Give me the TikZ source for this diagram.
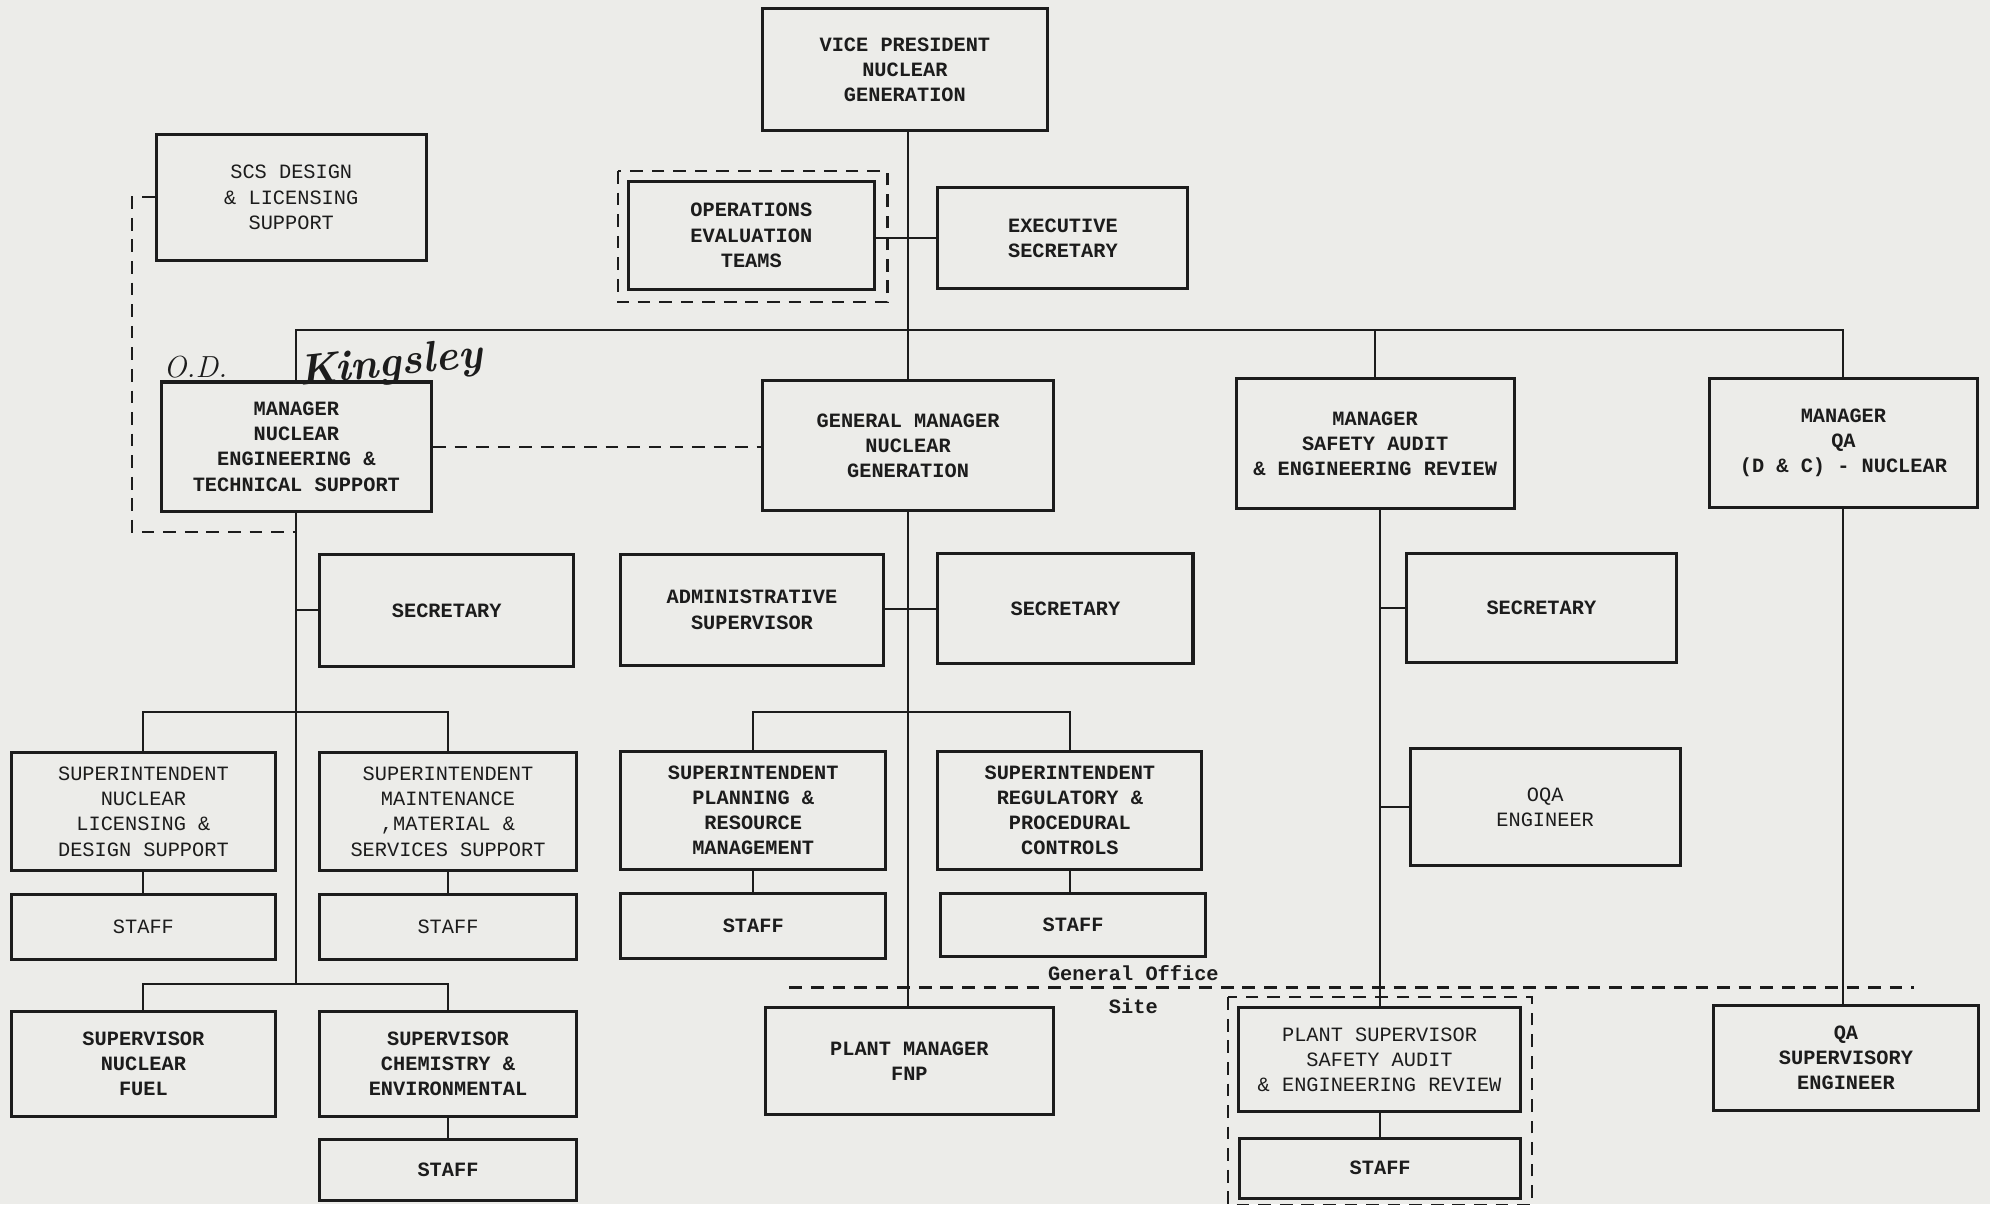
\documentclass[tikz,border=0pt]{standalone}
\usepackage{fontspec}
\setmonofont{Liberation Mono}
\usetikzlibrary{calc}
\definecolor{paper}{RGB}{236,236,233}
\definecolor{ink}{RGB}{28,28,28}
\tikzset{
  box/.style={draw=ink, line width=2.4pt, inner sep=0pt, align=center, text=ink,
    font=\ttfamily\bfseries\fontsize{16}{19.8}\selectfont},
  lightbox/.style={box, font=\ttfamily\fontsize{16}{19.8}\selectfont},
  link/.style={draw=ink, line width=1.6pt},
  dashlink/.style={draw=ink, line width=1.8pt, dash pattern=on 10pt off 7pt},
  hand/.style={text=ink, inner sep=0pt, font=\itshape\fontsize{30}{30}\selectfont},
  tag/.style={text=ink, inner sep=0pt, font=\ttfamily\bfseries\fontsize{16}{19.8}\selectfont}
}
% \orgbox[style]{name}{x1}{y1}{x2}{y2}{text}: a box spanning the given corners
\newcommand\orgbox[7][box]{%
  \node[#1, minimum width={#5-#3}, minimum height={#6-#4}] (#2)
    at ({(#3+#5)/2},{(#4+#6)/2}) {#7};}
\begin{document}
\begin{tikzpicture}[x=1pt, y=-1pt]
\fill[paper] (0,0) rectangle (1568,949);
\useasboundingbox (0,0) rectangle (1568,949);

% top level
\orgbox{vp}{601}{7}{825}{103}{VICE PRESIDENT\\NUCLEAR\\GENERATION}
\orgbox[lightbox]{scs}{123}{106}{336}{205}{SCS DESIGN\\\& LICENSING\\SUPPORT}
\orgbox{oet}{495}{143}{689}{228}{OPERATIONS\\EVALUATION\\TEAMS}
\orgbox{exec}{739}{148}{936}{227}{EXECUTIVE\\SECRETARY}

% managers
\orgbox{mnets}{127}{301}{340}{403}{MANAGER\\NUCLEAR\\ENGINEERING \&\\TECHNICAL SUPPORT}
\orgbox{gm}{601}{300}{830}{402}{GENERAL MANAGER\\NUCLEAR\\GENERATION}
\orgbox{msaer}{974}{298}{1193}{401}{MANAGER\\SAFETY AUDIT\\\& ENGINEERING REVIEW}
\orgbox{mqa}{1347}{298}{1558}{400}{MANAGER\\QA\\(D \& C) - NUCLEAR}

% secretaries and supervisors
\orgbox{sec1}{252}{437}{452}{525}{SECRETARY}
\orgbox{adm}{489}{437}{696}{524}{ADMINISTRATIVE\\SUPERVISOR}
\orgbox{sec2}{739}{436}{940}{523}{SECRETARY}
\orgbox{sec3}{1108}{436}{1321}{522}{SECRETARY}

% superintendents
\orgbox[lightbox]{snl}{9}{593}{217}{686}{SUPERINTENDENT\\NUCLEAR\\LICENSING \&\\DESIGN SUPPORT}
\orgbox[lightbox]{smm}{252}{593}{454}{686}{SUPERINTENDENT\\MAINTENANCE\\,MATERIAL \&\\SERVICES SUPPORT}
\orgbox{spr}{489}{592}{698}{685}{SUPERINTENDENT\\PLANNING \&\\RESOURCE\\MANAGEMENT}
\orgbox{srp}{739}{592}{947}{685}{SUPERINTENDENT\\REGULATORY \&\\PROCEDURAL\\CONTROLS}
\orgbox[lightbox]{oqa}{1111}{590}{1324}{682}{OQA\\ENGINEER}

% staff under superintendents
\orgbox[lightbox]{st1}{9}{705}{217}{756}{STAFF}
\orgbox[lightbox]{st2}{252}{705}{454}{756}{STAFF}
\orgbox{st3}{489}{704}{698}{755}{STAFF}
\orgbox{st4}{741}{704}{950}{754}{STAFF}

% lower level
\orgbox{snf}{9}{797}{217}{880}{SUPERVISOR\\NUCLEAR\\FUEL}
\orgbox{sce}{252}{797}{454}{880}{SUPERVISOR\\CHEMISTRY \&\\ENVIRONMENTAL}
\orgbox{st5}{252}{898}{454}{946}{STAFF}
\orgbox{pm}{603}{794}{830}{878}{PLANT MANAGER\\FNP}
\orgbox[lightbox]{psup}{976}{794}{1198}{876}{PLANT SUPERVISOR\\SAFETY AUDIT\\\& ENGINEERING REVIEW}
\orgbox{st7}{977}{897}{1198}{944}{STAFF}
\orgbox{qas}{1350}{792}{1559}{875}{QA\\SUPERVISORY\\ENGINEER}

% levels of the horizontal runs
\coordinate (bus) at (0,260);
\coordinate (lvlA) at (0,561);
\coordinate (lvlB) at (0,775);
\coordinate (dcorner) at (104,419);

% main trunk and top branches
\draw[link] (vp.south -| gm.north) -- (gm.north);
\draw[link] (gm.south) -- (gm.south |- pm.north);
\draw[link] (oet.east |- exec.west) -- (exec.west);
\draw[link] (mnets.north) -- (mnets.north |- bus) -- (mqa.north |- bus) -- (mqa.north);
\draw[link] (msaer.north) -- (msaer.north |- bus);

% nuclear engineering branch
\draw[link] (mnets.south) -- (mnets.south |- lvlB);
\draw[link] (sec1.west -| mnets.south) -- (sec1.west);
\draw[link] (snl.north) |- (mnets.south |- lvlA) -| (smm.north);
\draw[link] (snl.south) -- (snl.south |- st1.north);
\draw[link] (smm.south) -- (smm.south |- st2.north);
\draw[link] (snf.north) |- (mnets.south |- lvlB) -| (sce.north);
\draw[link] (sce.south) -- (sce.south |- st5.north);

% general manager branch
\draw[link] (adm.east |- sec2.west) -- (sec2.west);
\draw[link] (spr.north) |- (gm.south |- lvlA) -| (srp.north);
\draw[link] (spr.south) -- (spr.south |- st3.north);
\draw[link] (srp.south) -- (srp.south |- st4.north);

% safety audit branch
\draw[link] (psup.north |- msaer.south) -- (psup.north);
\draw[link] (sec3.west -| psup.north) -- (sec3.west);
\draw[link] (oqa.west -| psup.north) -- (oqa.west);
\draw[link] (psup.south) -- (psup.south |- st7.north);

% QA branch
\draw[link] (mqa.south) -- (mqa.south |- qas.north);

% dashed relations
\draw[dashlink] (mnets.east) -- (mnets.east -| gm.west);
\draw[dashlink] (scs.west) -| (dcorner) -- (dcorner -| mnets.south);
\draw[dashlink] ([shift={(-7,-7)}]oet.north west) rectangle ([shift={(9,9)}]oet.south east);
\draw[dashlink] ([shift={(-7,-7)}]psup.north west) rectangle ([shift={(8,4)}]st7.south east);

% general office / site boundary
\coordinate (goL) at (622,778);
\coordinate (goR) at (1508,778);
\draw[dashlink] (goL) -- (goR);
\node[tag] (go) at (893,767) {General Office};
\node[tag] (site) at (893,793) {Site};

% handwritten name
\node[hand, font=\itshape\fontsize{24}{24}\selectfont] (od) at (154,289) {O.D.};
\node[hand, rotate=6, font=\itshape\bfseries\fontsize{34}{34}\selectfont] (kg) at (308,288) {Kingsley};
\end{tikzpicture}
\end{document}
